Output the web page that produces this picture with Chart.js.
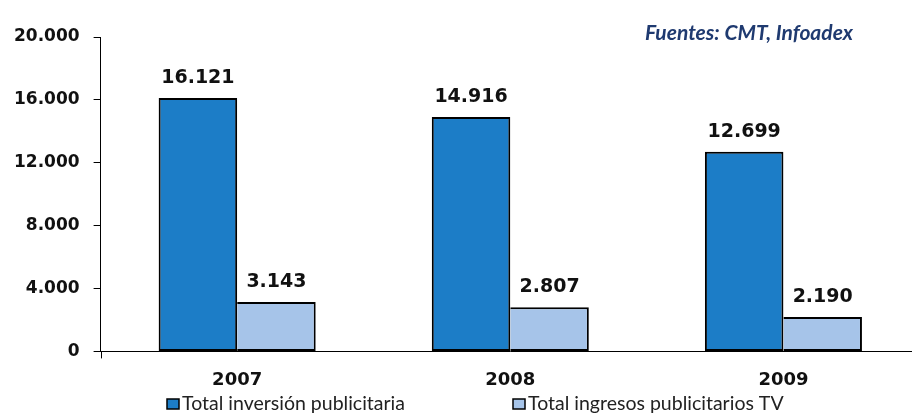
<!DOCTYPE html>
<html>
<head>
<meta charset="utf-8">
<script src="https://cdn.jsdelivr.net/npm/chart.js@4/dist/chart.umd.min.js"></script>
<style>
  html, body { margin: 0; padding: 0; background: #fff; overflow: hidden; }
  #wrap { width: 920px; height: 413px; }
</style>
</head>
<body>
<div id="wrap"><canvas id="c" width="920" height="413"></canvas></div>
<script>
const categories = ['2007', '2008', '2009'];
const inversionTotal = [16121, 14916, 12699];
const ingresosTV = [3143, 2807, 2190];
const seriesNames = ['Total inversión publicitaria', 'Total ingresos publicitarios TV'];
const yTicks = [0, 4000, 8000, 12000, 16000, 20000];
const sourceText = 'Fuentes: CMT, Infoadex';

function fmt(v) {
  return String(Math.round(v)).replace(/\B(?=(\d{3})+(?!\d))/g, '.');
}

const colors = ['#1c7dc7', '#a6c4e9'];

const valueLabels = {
  id: 'valueLabels',
  afterDatasetsDraw(chart) {
    const ctx = chart.ctx;
    ctx.save();
    ctx.font = 'bold 19px "DejaVu Sans"';
    ctx.fillStyle = '#111';
    ctx.textAlign = 'center';
    ctx.textBaseline = 'alphabetic';
    chart.data.datasets.forEach((ds, i) => {
      const meta = chart.getDatasetMeta(i);
      meta.data.forEach((el, j) => {
        ctx.fillText(fmt(ds.data[j]), el.x, el.y - 15);
      });
    });
    ctx.restore();
  }
};

const extras = {
  id: 'extras',
  afterDraw(chart) {
    const ctx = chart.ctx;
    ctx.save();
    // source note
    ctx.font = 'italic bold 21px Lato';
    ctx.fillStyle = '#1f3a70';
    ctx.textAlign = 'left';
    ctx.textBaseline = 'middle';
    ctx.fillText(sourceText, 645, 33);
    // legend
    const xs = [167, 513];
    ctx.font = '19.5px Lato';
    chart.data.datasets.forEach((ds, i) => {
      const x = xs[i];
      ctx.fillStyle = ds.backgroundColor;
      ctx.fillRect(x, 399, 12, 10);
      ctx.strokeStyle = '#000';
      ctx.lineWidth = 1.5;
      ctx.strokeRect(x, 399, 12, 10);
      ctx.fillStyle = '#222';
      ctx.textBaseline = 'alphabetic';
      ctx.fillText(ds.label, x + 15, 410);
    });
    // y-axis extension below x axis
    const xa = chart.scales.x, ya = chart.scales.y;
    ctx.strokeStyle = '#000';
    ctx.lineWidth = 1;
    ctx.beginPath();
    ctx.moveTo(Math.round(xa.left) + 0.5, ya.bottom);
    ctx.lineTo(Math.round(xa.left) + 0.5, ya.bottom + 7);
    ctx.stroke();
    ctx.restore();
  }
};

new Chart(document.getElementById('c'), {
  type: 'bar',
  data: {
    labels: categories,
    datasets: [
      { label: seriesNames[0], data: inversionTotal, backgroundColor: colors[0], borderColor: '#000', borderWidth: 2, borderSkipped: false },
      { label: seriesNames[1], data: ingresosTV, backgroundColor: colors[1], borderColor: '#000', borderWidth: { left: 0, top: 2, right: 2, bottom: 2 }, borderSkipped: false }
    ]
  },
  options: {
    responsive: false,
    animation: false,
    events: [],
    layout: { padding: { top: 37, bottom: 4, left: 0, right: 0 } },
    datasets: { bar: { categoryPercentage: 0.575, barPercentage: 1 } },
    plugins: { legend: { display: false }, tooltip: { enabled: false } },
    scales: {
      x: {
        grid: { display: false, drawTicks: false },
        border: { display: true, color: '#000', width: 1 },
        ticks: { color: '#111', font: { family: 'DejaVu Sans', weight: 'bold', size: 18 }, padding: 18 }
      },
      y: {
        min: 0, max: 20000,
        afterBuildTicks(scale) { scale.ticks = yTicks.map(v => ({ value: v })); },
        grid: { drawOnChartArea: false, drawTicks: true, tickLength: 7, color: '#000' },
        border: { display: true, color: '#000', width: 1 },
        ticks: { color: '#111', font: { family: 'DejaVu Sans', weight: 'bold', size: 17 }, padding: 14, callback: v => fmt(v) }
      }
    }
  },
  plugins: [valueLabels, extras]
});
</script>
</body>
</html>
